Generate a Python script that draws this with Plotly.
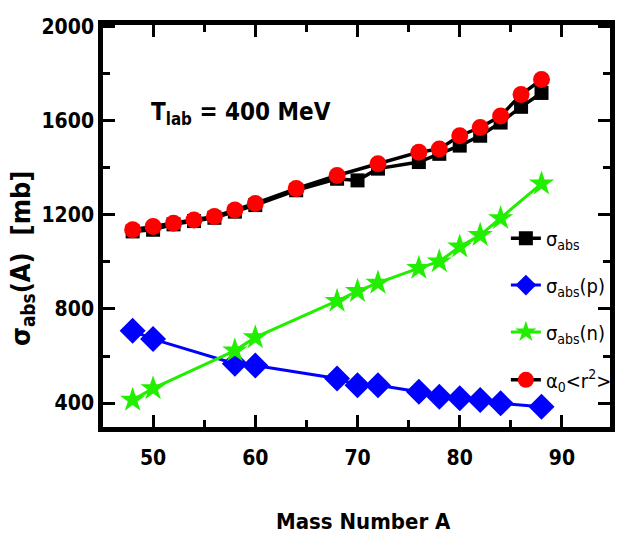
import plotly.graph_objects as go

# Mass numbers of the isotopes
mass_all = [48, 50, 52, 54, 56, 58, 60, 64, 68, 70, 72, 76, 78, 80, 82, 84, 86, 88]
mass_pn = [48, 50, 58, 60, 68, 70, 72, 76, 78, 80, 82, 84, 88]
mass_r2 = [48, 50, 52, 54, 56, 58, 60, 64, 68, 72, 76, 78, 80, 82, 84, 86, 88]

# Absorption cross sections [mb]
sigma_abs = [1130, 1137, 1160, 1174, 1188, 1214, 1242, 1305, 1354, 1347, 1397,
             1425, 1460, 1495, 1537, 1593, 1660, 1719]
sigma_p = [707, 672, 567, 560, 504, 476, 476, 448, 427, 420, 413, 399, 384]
sigma_n = [413, 462, 623, 679, 834, 876, 911, 974, 1002, 1065, 1114, 1186, 1333]
alpha_r2 = [1137, 1151, 1165, 1179, 1193, 1221, 1249, 1312, 1368, 1418, 1467,
            1481, 1537, 1572, 1621, 1712, 1776]

FONT = "DejaVu Sans Condensed, Liberation Sans Narrow, Arial Narrow, sans-serif"

fig = go.Figure()
fig.add_trace(go.Scatter(
    x=mass_all, y=sigma_abs, mode="lines+markers", name="σ<sub>abs</sub>",
    line=dict(color="black", width=3.5),
    marker=dict(symbol="square", size=14, color="black"), legend="legend"))
fig.add_trace(go.Scatter(
    x=mass_pn, y=sigma_p, mode="lines+markers", name="σ<sub>abs</sub>(p)",
    line=dict(color="#0000ff", width=3),
    marker=dict(symbol="diamond", size=20, color="#0000ff"), legend="legend2"))
fig.add_trace(go.Scatter(
    x=mass_pn, y=sigma_n, mode="lines+markers", name="σ<sub>abs</sub>(n)",
    line=dict(color="#22ee00", width=3),
    marker=dict(symbol="star", size=19, color="#22ee00"), legend="legend3"))
fig.add_trace(go.Scatter(
    x=mass_r2, y=alpha_r2, mode="lines+markers", name="α<sub>0</sub><r<sup>2</sup>>",
    line=dict(color="black", width=3.5),
    marker=dict(symbol="circle", size=17, color="#ff0000"), legend="legend4"))

# Legend entries are stacked by hand inside the frame, in container units
legend_common = dict(bgcolor="rgba(0,0,0,0)", borderwidth=0,
                     font=dict(family=FONT, size=20, color="black"),
                     xref="container", yref="container",
                     xanchor="left", yanchor="middle", itemwidth=30)
legend_x = 0.812
fig.update_layout(
    legend=dict(x=legend_x, y=0.563, **legend_common),
    legend2=dict(x=legend_x, y=0.477, **legend_common),
    legend3=dict(x=legend_x, y=0.391, **legend_common),
    legend4=dict(x=legend_x, y=0.303, **legend_common),
)

axis_common = dict(
    showline=True, linecolor="black", linewidth=4.5, mirror="allticks",
    ticks="inside", ticklen=12, tickwidth=3, tickcolor="black",
    showgrid=False, zeroline=False,
    tickfont=dict(family=FONT, size=21, color="black", weight="bold"),
)
fig.update_xaxes(range=[45.1, 94.7], tickvals=[50, 60, 70, 80, 90],
                 ticklabelstandoff=8,
                 minor=dict(tickvals=[55, 65, 75, 85], ticks="inside",
                            ticklen=7, tickwidth=3, tickcolor="black"),
                 **axis_common)
fig.update_yaxes(range=[298, 2008], tickvals=[400, 800, 1200, 1600, 2000],
                 minor=dict(tickvals=[600, 1000, 1400, 1800], ticks="inside",
                            ticklen=7, tickwidth=3, tickcolor="black"),
                 **axis_common)

fig.add_annotation(
    text="T<sub>lab</sub> = 400 MeV", xref="paper", yref="paper",
    x=0.09, y=0.78, xanchor="left", yanchor="middle", showarrow=False,
    font=dict(family=FONT, size=24, color="black", weight="bold"))
fig.add_annotation(
    text="Mass Number A", xref="paper", yref="paper",
    x=0.513, y=-0.234, xanchor="center", yanchor="middle", showarrow=False,
    font=dict(family=FONT, size=22, color="black", weight="bold"))
fig.add_annotation(
    text="σ<sub>abs</sub>(A)  [mb]", xref="paper", yref="paper",
    x=-0.16, y=0.42, xanchor="center", yanchor="middle", showarrow=False,
    textangle=-90,
    font=dict(family=FONT, size=27, color="black", weight="bold"))

fig.update_layout(
    width=623, height=545,
    margin=dict(l=103, r=13, t=25, b=118, autoexpand=False),
    paper_bgcolor="white", plot_bgcolor="white",
    showlegend=True,
)

fig.write_html("out.html")
